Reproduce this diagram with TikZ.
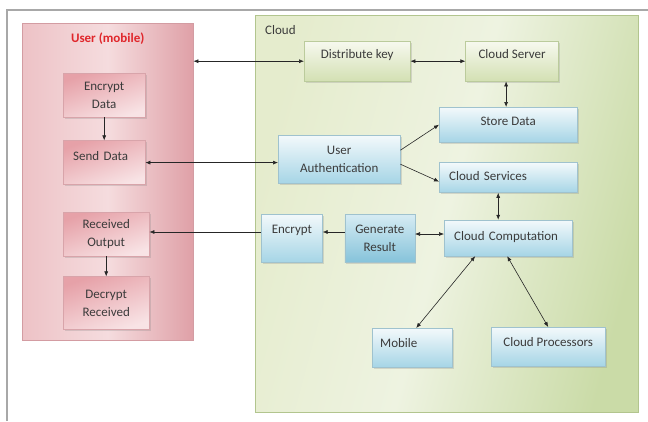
\documentclass[tikz,border=0pt]{standalone}
\usepackage{fontspec}
\setmainfont{Carlito}
\usetikzlibrary{arrows.meta,positioning,shadows}

\definecolor{txtgray}{HTML}{3B3B3B}
\definecolor{userred}{HTML}{E0262B}
\definecolor{pnlL}{HTML}{EDC2C6}
\definecolor{pnlM}{HTML}{F5DCDE}
\definecolor{pnlR}{HTML}{DFA0A7}
\definecolor{pnlline}{HTML}{D39CA2}
\definecolor{cldL}{HTML}{E5ECCD}
\definecolor{cldM}{HTML}{EEF3E1}
\definecolor{cldR}{HTML}{CADBA7}
\definecolor{cldline}{HTML}{B2C58E}
\definecolor{pkD}{HTML}{E6A1A8}
\definecolor{pkL}{HTML}{F8E3E5}
\definecolor{pkline}{HTML}{D8A4AA}
\definecolor{blT}{HTML}{F3F9FB}
\definecolor{blB}{HTML}{A6D5E6}
\definecolor{blD}{HTML}{86C3DA}
\definecolor{blline}{HTML}{9FC2CE}
\definecolor{grT}{HTML}{F7F9EF}
\definecolor{grB}{HTML}{D3E0B3}
\definecolor{grline}{HTML}{BBCB9C}
\definecolor{framegray}{HTML}{A8A8A8}

\begin{document}
\begin{tikzpicture}[
  x=1pt, y=-1pt,
  font=\fontsize{13}{18}\selectfont, text=txtgray,
  box/.style={draw, align=center, inner sep=0pt, drop shadow={shadow xshift=1.5pt, shadow yshift=-1.5pt, opacity=0.25}},
  pbox/.style={box, draw=pkline, top color=pkD, bottom color=pkL, shading angle=20},
  bbox/.style={box, draw=blline, top color=blT, bottom color=blB},
  gbox/.style={box, draw=grline, top color=grT, bottom color=grB},
  toptext/.style 2 args={text height=#1, text depth=#2},
  arr/.style={-{Latex[length=5pt,width=4pt]}, semithick, draw=black!85},
  darr/.style={{Latex[length=5pt,width=4pt]}-{Latex[length=5pt,width=4pt]}, semithick, draw=black!85}
]
\useasboundingbox (0,0) rectangle (648,421);
\draw[framegray, line width=1.8pt] (7,421) -- (7,10) -- (648,10);

% panels
\node[draw=pnlline, left color=pnlL, right color=pnlR, middle color=pnlM, inner sep=0pt,
      minimum width=171pt, toptext={19pt}{298pt}, anchor=north west,
      font=\fontsize{13}{16}\selectfont\bfseries, text=userred] (user) at (22,23) {User (mobile)};
\node[draw=cldline, left color=cldL, right color=cldR, middle color=cldM, shading angle=75, inner ysep=0pt,
      text width=363pt, align=left, inner xsep=10pt, toptext={19pt}{378pt}, anchor=north west] (cloud) at (255,15) {Cloud};

% user side
\node[pbox, minimum width=82pt, minimum height=44pt, anchor=north west] (encdata) at (63,73) {Encrypt\\Data};
\node[pbox, below=23pt of encdata, text width=62pt, align=left, inner xsep=10pt, toptext={20pt}{24pt}] (send) {Send Data};
\node[pbox, minimum width=86pt, minimum height=44pt, anchor=north west] (recv) at (63,212) {Received\\Output};
\node[pbox, below=20pt of recv, minimum width=86pt, minimum height=53pt] (decr) {Decrypt\\Received};

% cloud side
\node[gbox, minimum width=106pt, toptext={17pt}{23pt}, anchor=north west] (dist) at (304,41) {Distribute key};
\node[gbox, right=55pt of dist, minimum width=93pt, toptext={17pt}{23pt}] (server) {Cloud Server};
\node[bbox, minimum width=122pt, minimum height=48pt, anchor=north west] (auth) at (278,135) {User\\Authentication};
\node[bbox, minimum width=138pt, toptext={18pt}{17pt}, anchor=north west] (store) at (439,107) {Store Data};
\node[bbox, below=20pt of store, text width=118pt, align=left, inner xsep=10pt, toptext={18pt}{12pt}] (serv) {Cloud Services};
\node[bbox, below=27pt of serv, text width=108pt, align=left, inner xsep=10pt, toptext={20pt}{16pt}] (comp) {Cloud Computation};
\node[bbox, top color=blB!45!white, bottom color=blD, left=29pt of comp, minimum width=70pt, minimum height=48pt] (gen) {Generate\\Result};
\node[bbox, left=22pt of gen, minimum width=61pt, toptext={19pt}{29pt}] (enc) {Encrypt};
\node[bbox, text width=64pt, align=left, inner xsep=8pt, toptext={19pt}{20pt}, anchor=north west] (mob) at (372,328) {Mobile};
\node[bbox, minimum width=114pt, toptext={19pt}{20pt}, anchor=north west] (procs) at (491,327) {Cloud Processors};

% connectors
\draw[darr] (dist.west -| user.east) -- (dist.west);
\draw[darr] (dist.east) -- (dist.east -| server.west);
\draw[darr] ([xshift=-6pt]server.south) -- ([xshift=-6pt]server.south |- store.north);
\draw[arr] (encdata) -- (send);
\draw[darr] (send.east) -- (send.east -| auth.west);
\draw[arr] ([yshift=9pt]auth.east) -- (store.west);
\draw[arr] ([yshift=-5pt]auth.east) -- ([yshift=-4pt]serv.west);
\draw[darr] ([xshift=-10pt]serv.south) -- ([xshift=-10pt]comp.north);
\draw[darr] ([yshift=4pt]gen.east) -- ([yshift=4pt]gen.east -| comp.west);
\draw[arr] ([yshift=6pt]gen.west) -- ([yshift=6pt]enc.east);
\draw[arr] ([yshift=6pt]enc.west) -- ([yshift=6pt]enc.west -| recv.east);
\draw[arr] (recv) -- (decr);
\draw[darr] ([xshift=-33pt]comp.south) -- ([xshift=4pt]mob.north);
\draw[darr] ([xshift=-1pt]comp.south) -- (procs.north);
\end{tikzpicture}
\end{document}
